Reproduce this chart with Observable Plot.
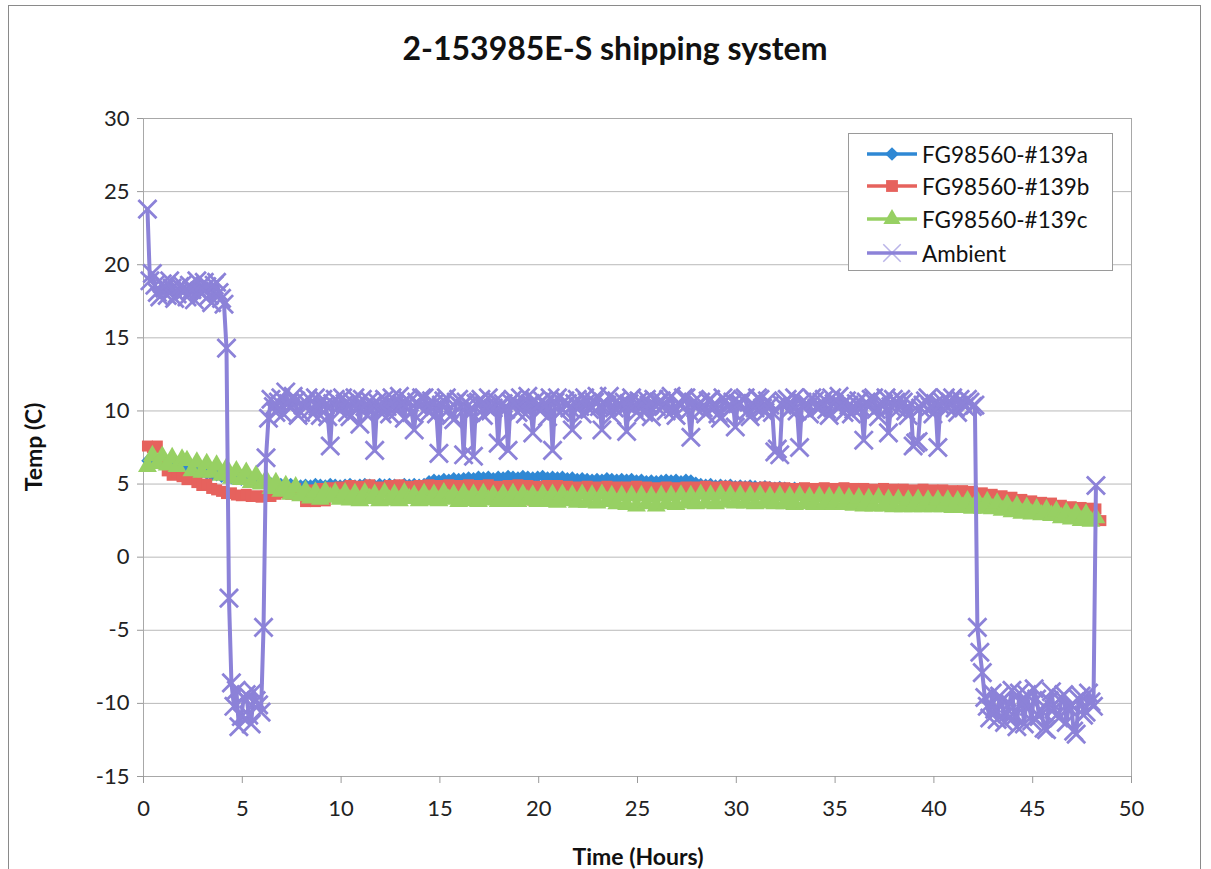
<!DOCTYPE html>
<html><head><meta charset="utf-8">
<script src="https://cdn.jsdelivr.net/npm/d3@7"></script>
<script src="https://cdn.jsdelivr.net/npm/@observablehq/plot@0.6"></script>
<style>
body{margin:0;background:#fff;font-family:Lato,"Open Sans",sans-serif;}
#wrap{position:relative;width:1211px;height:869px;overflow:hidden;background:#fff;}
#frame{position:absolute;left:8px;top:5px;width:1191px;height:900px;border:1.5px solid #8a8a8a;}
#title{position:absolute;left:615px;top:47px;transform:translate(-50%,-50%);white-space:nowrap;font-weight:bold;font-size:32px;color:#111;}
#ylab{position:absolute;left:33px;top:447px;transform:translate(-50%,-50%) rotate(-90deg);white-space:nowrap;font-weight:bold;font-size:23px;color:#111;}
#xlab{position:absolute;left:638px;top:856px;transform:translate(-50%,-50%);white-space:nowrap;font-weight:bold;font-size:23px;color:#111;}
#chart{position:absolute;left:0;top:0;}
#legend{position:absolute;left:848px;top:133px;width:265px;height:138px;border:1px solid #9a9a9a;background:#fff;box-sizing:border-box;}
.item{position:absolute;left:17px;height:30px;display:flex;align-items:center;font-size:22.5px;color:#111;white-space:nowrap;}
.item svg{margin-right:4px;}
</style></head>
<body><div id="wrap"><div id="frame"></div><div id="chart"></div><div id="title"></div><div id="ylab"></div><div id="xlab"></div><div id="legend"></div></div>
<script>
const titleText = "2-153985E-S shipping system";
const yLabel = "Temp (C)";
const xLabel = "Time (Hours)";
const xTicks = [0, 5, 10, 15, 20, 25, 30, 35, 40, 45, 50];
const yTicks = [-15, -10, -5, 0, 5, 10, 15, 20, 25, 30];
const seriesNames = ["FG98560-#139a", "FG98560-#139b", "FG98560-#139c", "Ambient"];
const seriesColors = ["#2f88d4", "#e6625d", "#97d063", "#8c82d8"];
const seriesSymbols = ["diamond2", "square", "triangle", "times"];

// logger readings: first reading hour and interval between readings (hours)
const firstReadingHour = 0.2;
const readingIntervalHours = 0.25;

const tempA = [
6.6,6.7,6.5,6.4,6.3,6.3,6.2,6.1,
6.0,5.9,5.9,5.8,5.7,5.6,5.6,5.5,
5.45,5.4,5.35,5.3,5.25,5.2,5.15,5.1,
5.1,5.05,5.0,5.0,4.95,5.0,4.95,4.9,
4.95,4.9,5.0,4.95,4.9,5.0,4.95,4.9,
4.95,5.0,4.9,4.95,5.0,4.95,4.9,5.0,
4.95,5.0,4.95,4.9,5.0,4.95,5.0,4.95,
5.0,5.2,5.3,5.25,5.35,5.3,5.4,5.35,
5.4,5.45,5.4,5.5,5.45,5.5,5.4,5.5,
5.45,5.55,5.5,5.45,5.55,5.5,5.45,5.5,
5.55,5.45,5.5,5.45,5.5,5.4,5.45,5.35,
5.4,5.35,5.3,5.35,5.3,5.4,5.35,5.3,
5.35,5.3,5.35,5.25,5.3,5.2,5.25,5.2,
5.25,5.3,5.25,5.3,5.2,5.3,5.25,5.1,
5.0,4.95,5.0,4.9,4.95,4.9,4.95,4.85,
4.9,4.85,4.9,4.85,4.8,4.85,4.8,4.75,
4.8,4.75,4.7,4.75,4.7,4.65,4.6,4.6,
4.55,4.5,4.55,4.5,4.45,4.5,4.45,4.4,
4.45,4.4,4.35,4.4,4.35,4.3,4.35,4.3,
4.25,4.3,4.25,4.2,4.25,4.2,4.15,4.2,
4.15,4.1,4.15,4.1,4.05,4.1,4.05,4.0,
3.95,3.9,3.85,3.8,3.75,3.7,3.65,3.6,
3.55,3.5,3.45,3.4,3.35,3.3,3.25,3.2,
3.15,3.1,3.05,3.0,2.95,2.9,2.85,2.8,
2.8];

const tempB = [
7.6,7.5,7.6,6.4,5.9,5.6,5.8,5.5,
5.3,5.5,5.1,4.9,5.0,4.7,4.6,4.5,
4.35,4.4,4.25,4.2,4.3,4.15,4.2,4.1,
4.2,4.15,4.3,4.4,4.6,4.3,4.7,4.4,
3.8,4.6,3.8,4.7,3.85,4.75,4.3,4.8,
4.4,4.9,4.3,4.85,4.5,4.95,4.2,4.8,
4.4,4.9,4.3,4.95,4.5,4.85,4.2,4.9,
4.4,4.95,4.3,4.9,4.45,4.95,4.25,4.9,
4.4,4.95,4.3,4.9,4.5,4.95,4.3,4.85,
4.45,4.9,4.3,4.95,4.4,4.9,3.9,4.85,
4.4,4.9,4.3,4.9,4.45,4.85,4.3,4.8,
4.4,4.85,4.3,4.8,4.4,4.85,4.25,4.8,
4.35,4.8,4.25,4.85,4.3,4.8,4.2,4.75,
4.3,4.8,4.25,4.75,4.35,4.8,4.2,4.8,
4.35,4.85,4.3,4.8,4.4,4.85,4.3,4.8,
4.35,4.8,4.3,4.75,4.35,4.8,4.25,4.75,
4.3,4.75,4.25,4.7,4.3,4.75,4.2,4.7,
4.3,4.75,4.2,4.7,4.25,4.75,4.2,4.7,
4.25,4.7,4.2,4.65,4.25,4.7,4.15,4.65,
4.2,4.65,4.1,4.6,4.2,4.65,4.1,4.6,
4.15,4.6,4.1,4.55,4.1,4.55,4.05,4.5,
4.05,4.4,3.95,4.3,3.9,4.2,3.85,4.1,
3.75,3.95,3.65,3.85,3.6,3.75,3.5,3.7,
3.4,3.55,3.3,3.45,3.25,3.4,3.2,3.35,
3.3,2.5];

const tempC = [
6.2,6.95,6.4,6.9,6.3,6.8,6.2,6.7,
6.6,5.9,6.5,5.8,6.4,5.8,6.3,5.6,
6.1,5.4,5.9,5.3,5.8,5.1,5.6,5.0,
5.3,4.7,5.1,4.5,4.9,4.3,4.8,4.2,
4.55,4.05,4.45,3.95,4.5,4.1,4.4,3.95,
4.4,3.9,4.35,3.85,4.4,4.0,4.3,3.85,
4.4,3.9,4.3,3.85,4.4,4.0,4.25,3.85,
4.35,3.9,4.3,3.85,4.4,3.95,4.3,3.8,
4.35,3.85,4.3,3.8,4.35,3.9,4.25,3.8,
4.3,3.8,4.35,3.8,4.3,3.9,4.25,3.8,
4.3,3.8,4.3,3.75,4.3,3.85,4.25,3.75,
4.3,3.75,4.25,3.7,4.3,3.8,4.2,3.65,
4.2,3.6,4.2,3.5,4.2,3.65,4.15,3.5,
4.2,3.65,4.2,3.6,4.25,3.7,4.2,3.65,
4.3,3.7,4.25,3.65,4.3,3.75,4.25,3.7,
4.25,3.7,4.2,3.65,4.25,3.7,4.15,3.65,
4.2,3.65,4.15,3.6,4.2,3.65,4.1,3.6,
4.15,3.6,4.1,3.6,4.15,3.6,4.05,3.55,
4.05,3.5,4.0,3.5,4.05,3.5,3.95,3.45,
3.95,3.45,3.9,3.45,3.95,3.45,3.9,3.45,
3.9,3.45,3.9,3.4,3.85,3.4,3.85,3.35,
3.85,3.35,3.8,3.3,3.7,3.2,3.6,3.1,
3.5,3.0,3.4,2.95,3.3,2.9,3.25,2.85,
3.15,2.7,3.05,2.6,3.0,2.5,2.95,2.45,
2.7];

// ambient probe: readings on the main grid ...
const tempAmbient = [
23.8,19.4,18.1,18.7,17.9,18.4,18.0,18.6,
17.8,18.3,18.9,18.0,18.5,17.4,18.8,17.7,
14.3,-8.6,-9.1,-10.9,-9.4,-11.4,-9.8,-10.6,
6.8,10.8,9.9,10.9,11.3,10.2,10.7,9.9,
10.6,10.1,10.9,9.7,10.4,7.6,10.8,10.0,
10.5,9.6,10.9,9.1,10.3,10.7,7.3,10.2,
10.8,9.8,10.4,11.0,9.5,10.6,8.7,10.3,
10.9,9.9,10.5,7.1,10.7,10.1,9.4,10.8,
7.0,10.4,6.9,10.6,9.7,10.9,10.2,7.8,
10.5,7.3,10.8,9.9,10.3,11.0,8.5,10.4,
10.7,9.6,7.3,10.9,10.1,10.5,8.7,10.8,
9.8,10.6,10.2,11.0,8.7,10.4,9.7,10.7,
10.1,8.6,10.9,9.9,10.5,10.8,9.6,10.3,
10.7,10.0,11.0,9.7,10.4,10.9,8.2,10.2,
10.6,9.8,10.8,10.3,9.5,10.7,10.1,8.9,
10.5,10.9,9.6,10.2,10.8,9.9,10.4,7.2,
7.0,10.6,10.1,10.9,7.5,10.3,9.8,10.7,
10.2,10.8,9.7,10.5,11.0,9.9,10.4,10.1,
10.7,8.0,10.3,10.9,9.6,10.5,8.5,10.8,
10.1,10.6,9.7,7.6,7.9,10.4,10.9,9.8,
7.5,10.6,10.2,10.9,9.9,10.5,10.8,10.3,
-4.8,-7.9,-10.2,-9.3,-11.1,-9.8,-10.7,-9.1,
-11.6,-10.0,-9.4,-11.2,-9.7,-10.5,-11.8,-9.2,
-10.8,-9.6,-11.3,-10.1,-12.1,-9.5,-10.6,-9.9,
4.9];
// ... and the readings taken half an interval after each of them
const tempAmbientHalf = [
18.9,18.6,17.8,18.4,18.9,17.7,18.5,18.2,
18.6,17.6,18.2,18.8,17.9,18.6,18.1,17.3,
-2.8,-10.2,-11.6,-9.6,-10.8,-9.2,-10.1,-4.8,
9.5,10.3,10.6,9.8,10.5,11.0,9.7,10.4,
10.9,9.8,10.3,10.8,9.6,10.5,10.2,10.9,
9.9,10.6,10.3,10.8,9.7,10.4,10.6,9.8,
10.3,10.9,10.0,10.5,10.8,9.9,10.6,10.9,
10.2,10.7,9.8,10.4,10.9,9.7,10.6,10.3,
10.6,9.9,10.5,10.8,10.3,10.0,10.7,10.4,
10.1,10.6,10.4,10.9,9.8,10.5,10.7,10.0,
10.4,10.9,10.6,9.9,10.7,10.2,10.5,10.3,
10.9,10.1,10.6,10.3,10.5,11.0,10.2,10.4,
10.6,10.5,10.2,10.7,9.9,10.4,10.8,10.6,
10.3,10.8,10.1,10.5,10.9,10.0,10.6,10.4,
10.2,10.7,10.4,9.8,10.9,10.3,10.6,10.5,
10.8,10.0,10.5,10.9,10.2,10.7,9.9,7.4,
10.4,10.8,10.3,10.0,10.6,10.5,10.9,10.2,
10.6,10.1,10.9,10.3,10.4,10.7,9.8,10.5,
10.2,10.6,10.8,10.1,10.4,10.9,10.3,10.6,
10.8,10.0,10.5,7.8,10.2,10.7,10.3,10.5,
10.4,10.9,10.6,10.2,10.8,10.3,10.6,10.4,
-6.5,-9.6,-11.0,-10.4,-9.5,-11.3,-10.0,-10.9,
-9.3,-11.4,-10.2,-9.0,-10.9,-11.7,-9.8,-10.4,
-11.0,-9.4,-10.3,-11.9,-9.7,-10.8,-9.3,-10.2];

const hourOf = (i) => firstReadingHour + i * readingIntervalHours;
const toRows = (vals) => vals.map((v, i) => ({hour: hourOf(i), temp: v}));
const ambientRows = toRows(tempAmbient)
  .concat(tempAmbientHalf.map((v, i) => ({hour: hourOf(i) + readingIntervalHours / 2, temp: v})))
  .sort((a, b) => a.hour - b.hour);
const seriesRows = [toRows(tempA), toRows(tempB), toRows(tempC), ambientRows];

document.getElementById("title").textContent = titleText;
document.getElementById("ylab").textContent = yLabel;
document.getElementById("xlab").textContent = xLabel;

const symR = [5.6, 6.2, 7, 8.3];
const marks = [
  Plot.gridY(yTicks, {stroke: "#b9b9b9", strokeOpacity: 1, strokeWidth: 1}),
  Plot.frame({stroke: "#a8a8a8", strokeWidth: 1}),
  Plot.axisY(yTicks, {tickSize: 6, tickPadding: 8, stroke: "#999", fill: "#222", label: null, tickFormat: d => String(d), fontSize: 22}),
  Plot.axisX(xTicks, {tickSize: 7, tickPadding: 17, stroke: "#999", fill: "#222", label: null, tickFormat: d => String(d), fontSize: 22})
];
seriesRows.forEach((rows, k) => {
  const isX = seriesSymbols[k] === "times";
  marks.push(Plot.line(rows, {x: "hour", y: "temp", stroke: seriesColors[k], strokeWidth: isX ? 4 : 3.2}));
  marks.push(Plot.dot(rows, isX
    ? {x: "hour", y: "temp", symbol: "times", r: symR[k], stroke: seriesColors[k], strokeWidth: 2.8}
    : {x: "hour", y: "temp", symbol: seriesSymbols[k], r: symR[k], fill: seriesColors[k], stroke: "none"}));
});

const chart = Plot.plot({
  width: 1211, height: 869,
  marginLeft: 143, marginRight: 80, marginTop: 118, marginBottom: 93,
  style: {fontFamily: "Lato, sans-serif", fontSize: "22px", background: "transparent", overflow: "visible"},
  x: {domain: [0, 50]},
  y: {domain: [-15, 30]},
  marks
});
document.getElementById("chart").appendChild(chart);

// legend
const legend = document.getElementById("legend");
const symPath = {
  diamond2: d3.symbol(d3.symbolDiamond2, 120)(),
  square: d3.symbol(d3.symbolSquare, 140)(),
  triangle: d3.symbol(d3.symbolTriangle, 130)(),
  times: d3.symbol(d3.symbolTimes, 200)()
};
const itemTops = [5, 37, 70, 104];
seriesNames.forEach((name, k) => {
  const div = document.createElement("div");
  div.className = "item";
  div.style.top = itemTops[k] + "px";
  const isX = seriesSymbols[k] === "times";
  div.innerHTML = `<svg width="52" height="24"><line x1="1" x2="51" y1="12" y2="12" stroke="${seriesColors[k]}" stroke-width="3.5"/>` +
    `<path transform="translate(26,12)" d="${symPath[seriesSymbols[k]]}" ${isX ? `fill="none" stroke="${seriesColors[k]}" stroke-width="1.5" stroke-opacity="0.6"` : `fill="${seriesColors[k]}"`}/></svg><span>${name}</span>`;
  legend.appendChild(div);
});
</script></body></html>
